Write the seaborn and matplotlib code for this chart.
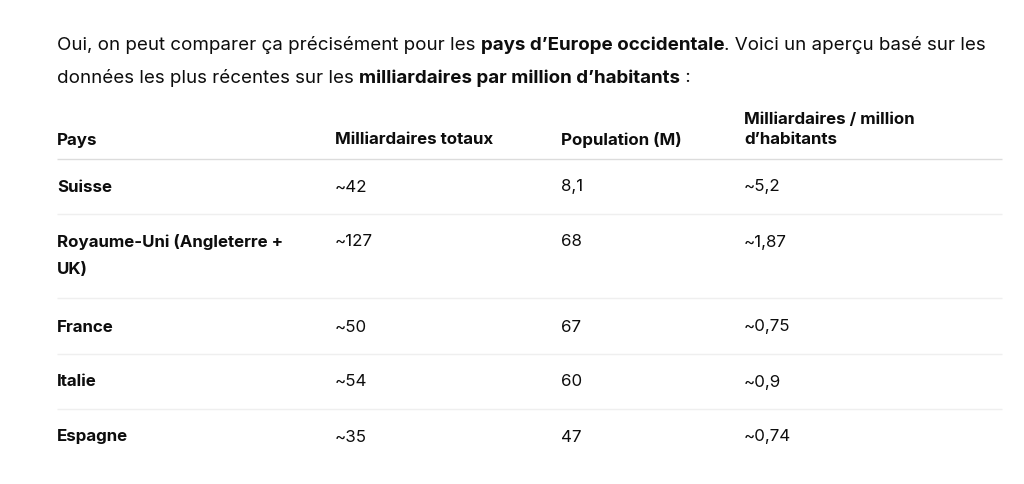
import matplotlib
matplotlib.use("Agg")
import matplotlib.pyplot as plt
import seaborn as sns

# Table content
headers = ["Pays", "Milliardaires totaux", "Population (M)", "Milliardaires / million\nd\u2019habitants"]
pays = ["Suisse", "Royaume-Uni (Angleterre +\nUK)", "France", "Italie", "Espagne"]
milliardaires = ["~42", "~127", "~50", "~54", "~35"]
population = ["8,1", "68", "67", "60", "47"]
par_million = ["~5,2", "~1,87", "~0,75", "~0,9", "~0,74"]

# Intro paragraph, (text, bold) segments per line
intro = [
    [("Oui, on peut comparer \u00e7a pr\u00e9cis\u00e9ment pour les ", False),
     ("pays d\u2019Europe occidentale", True),
     (". Voici un aper\u00e7u bas\u00e9 sur les", False)],
    [("donn\u00e9es les plus r\u00e9centes sur les ", False),
     ("milliardaires par million d\u2019habitants", True),
     (" :", False)],
]

sns.set_theme(style="white")
plt.rcParams['font.family'] = ['Inter', 'DejaVu Sans']

ink = "#0d0d0d"
fs_par = 13.5
fs_tab = 12.2

fig = plt.figure(figsize=(10.24, 4.84), dpi=100)
ax = fig.add_axes([0, 0, 1, 1])
ax.set_xlim(0, 1024)
ax.set_ylim(484, 0)
ax.axis("off")
renderer = fig.canvas.get_renderer()

# paragraph
for line, y in zip(intro, [45, 78]):
    x = 57
    for txt, bold in line:
        t = ax.text(x, y, txt, fontsize=fs_par, color=ink, va="center",
                    fontweight="bold" if bold else "normal")
        x += t.get_window_extent(renderer).width

col_x = [57, 335, 561, 744]
left, right = 57, 1002


def cell(x, y, txt, bold=False, step=28):
    # multi-line cells are drawn one line at a time, first line at y
    for k, part in enumerate(txt.split("\n")):
        ax.text(x, y + k * step, part, fontsize=fs_tab, color=ink, va="center",
                fontweight="bold" if bold else "normal")


# header
for cx, h in zip(col_x, headers):
    n = h.count("\n")
    cell(cx, 140 - 20 * n, h, bold=True, step=20)
ax.hlines(159, left, right, color="#dcdcdc", lw=1)

row_y = [187, 242, 327, 382, 437]
sep_y = [214, 298, 354, 409]
for i, y in enumerate(row_y):
    cell(col_x[0], y, pays[i], bold=True)
    cell(col_x[1], y, milliardaires[i])
    cell(col_x[2], y, population[i])
    cell(col_x[3], y, par_million[i])
for y in sep_y:
    ax.hlines(y, left, right, color="#efefef", lw=1)

fig.savefig("out.png", dpi=100, facecolor="white")
